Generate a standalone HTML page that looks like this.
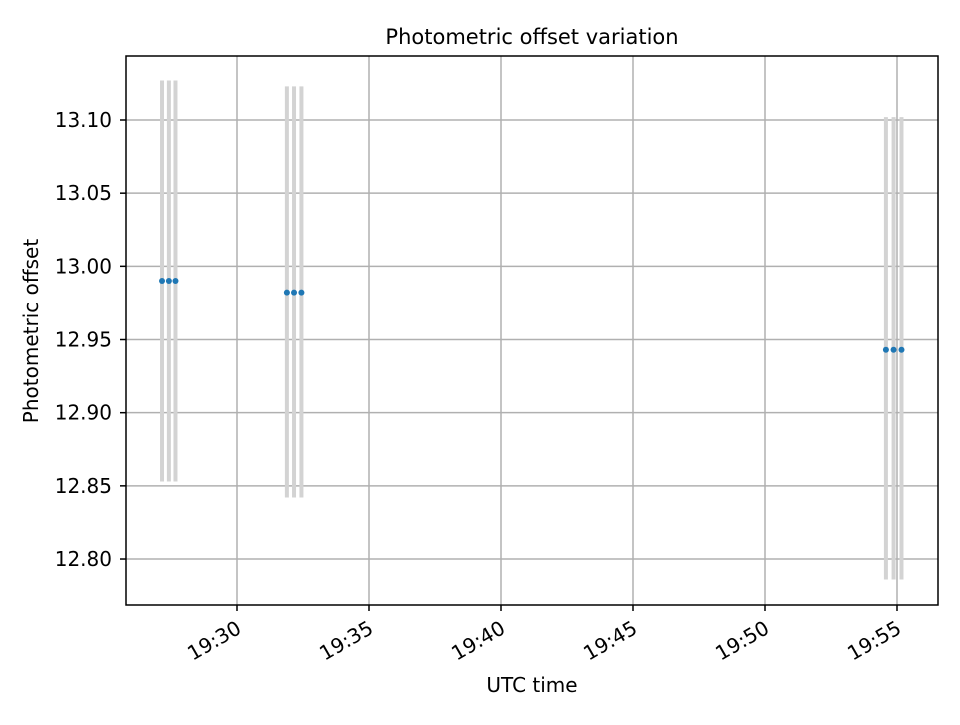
<!DOCTYPE html>
<html><head><meta charset="utf-8"><style>
body{margin:0;background:#fff;}
svg text{font-family:"DejaVu Sans","Liberation Sans",sans-serif;fill:#000;}
</style></head><body>
<svg id="chart" width="960" height="720" xmlns="http://www.w3.org/2000/svg"></svg>
<script>
// minutes past 19:00
const times = [27.16, 27.42, 27.67, 31.89, 32.16, 32.44, 54.58, 54.87, 55.17];
const offsets = [12.990, 12.990, 12.990, 12.982, 12.982, 12.982, 12.943, 12.943, 12.943];
const errLow = [12.853, 12.853, 12.853, 12.842, 12.842, 12.842, 12.786, 12.786, 12.786];
const errHigh = [13.127, 13.127, 13.127, 13.123, 13.123, 13.123, 13.102, 13.102, 13.102];
const yTicks = [12.80, 12.85, 12.90, 12.95, 13.00, 13.05, 13.10];
const xTicks = [30, 35, 40, 45, 50, 55];
const xTickLabels = ["19:30", "19:35", "19:40", "19:45", "19:50", "19:55"];

const L=126,R=938,T=56,B=605;
const X = m => 237 + (m-30)*26.4;
const Y = v => 120 + (13.10 - v)*1463.4;
const svg=document.getElementById('chart');
const NS='http://www.w3.org/2000/svg';
function mk(tag,attrs,parent){const e=document.createElementNS(NS,tag);for(const k in attrs)e.setAttribute(k,attrs[k]);(parent||svg).appendChild(e);return e;}

yTicks.forEach((v,i)=>{
  const g=mk('line',{x1:L,x2:R,y1:Y(v),y2:Y(v),stroke:'#b0b0b0','stroke-width':1.5});
  
  
  const t=mk('line',{x1:L-6,x2:L,y1:Y(v),y2:Y(v),stroke:'#000','stroke-width':1.5});
  
  
  const tx=mk('text',{x:L-14,y:Y(v)+7,'text-anchor':'end','font-size':20});
  tx.textContent=v.toFixed(2);
  
  
});
xTicks.forEach((m,i)=>{
  const g=mk('line',{x1:X(m),x2:X(m),y1:T,y2:B,stroke:'#b0b0b0','stroke-width':1.5});
  
  
  const t=mk('line',{x1:X(m),x2:X(m),y1:B,y2:B+6,stroke:'#000','stroke-width':1.5});
  
  
  const ax=X(m)-2, ay=B+14;
  const tx=mk('text',{x:ax,y:ay,'text-anchor':'end','font-size':20,transform:`rotate(-30 ${ax} ${ay})`,'dominant-baseline':'hanging'});
  tx.textContent=xTickLabels[i];
  
  
});
times.forEach((m,i)=>{
  const e=mk('line',{x1:X(m),x2:X(m),y1:Y(errHigh[i]),y2:Y(errLow[i]),stroke:'#d3d3d3','stroke-width':4});
  
  
});
times.forEach((m,i)=>{
  const c=mk('circle',{cx:X(m),cy:Y(offsets[i]),r:3,fill:'#1f77b4'});
  
  
});
const fr=mk('rect',{x:L,y:T,width:R-L,height:B-T,fill:'none',stroke:'#000','stroke-width':1.5});


const ti=mk('text',{x:532,y:44,'text-anchor':'middle','font-size':21});
ti.textContent='Photometric offset variation';


const xl=mk('text',{x:532,y:692,'text-anchor':'middle','font-size':20});
xl.textContent='UTC time';


const yl=mk('text',{x:38,y:331,'text-anchor':'middle','font-size':20,transform:'rotate(-90 38 331)'});
yl.textContent='Photometric offset';


</script>
</body></html>
